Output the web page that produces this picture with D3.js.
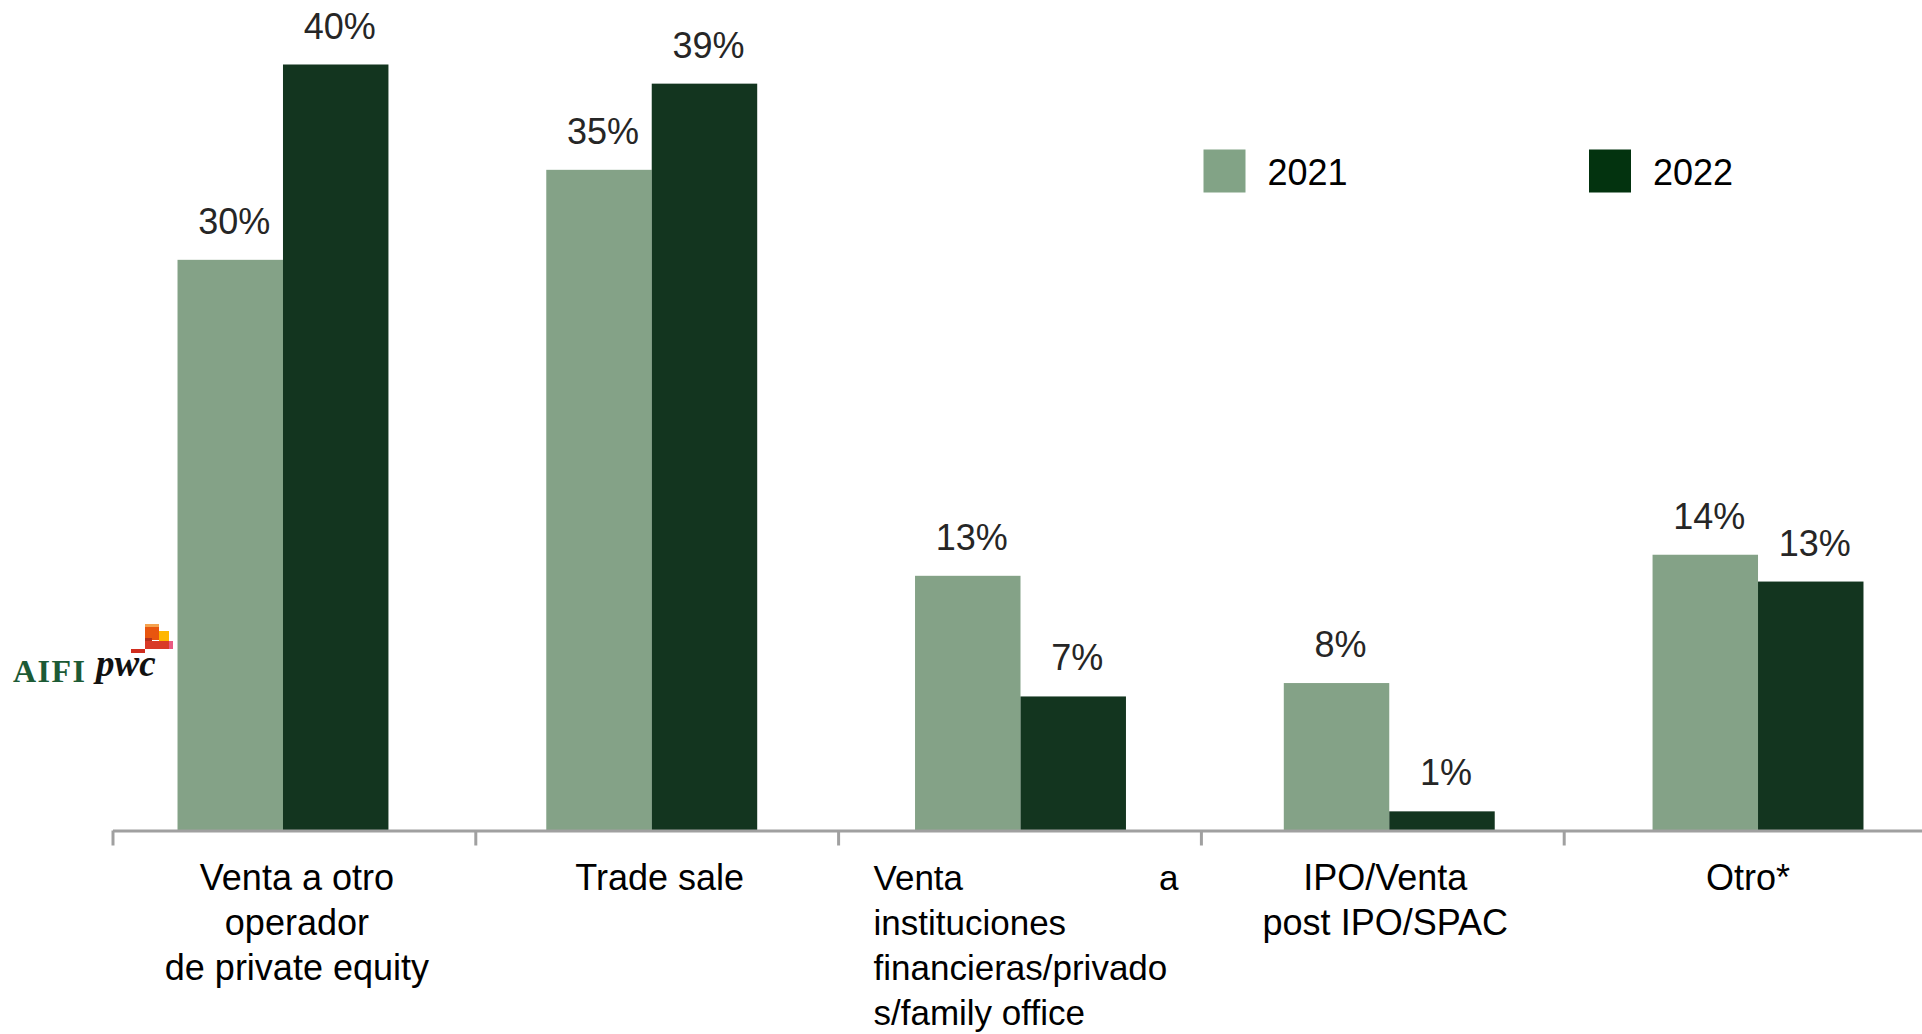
<!DOCTYPE html>
<html>
<head>
<meta charset="utf-8">
<script src="https://cdn.jsdelivr.net/npm/d3@7"></script>
<style>
  html, body { margin: 0; padding: 0; background: #ffffff; }
  svg { display: block; }
  text { font-family: "Liberation Sans", Arial, sans-serif; }
</style>
</head>
<body>
<svg id="chart" width="1922" height="1034"></svg>
<script>
// ---- data ----
const categories = [
  "Venta a otro operador de private equity",
  "Trade sale",
  "Venta a instituciones financieras/privados/family office",
  "IPO/Venta post IPO/SPAC",
  "Otro*"
];
const categoryLines = [
  ["Venta a otro", "operador", "de private equity"],
  ["Trade sale"],
  ["Venta a", "instituciones", "financieras/privado", "s/family office"],
  ["IPO/Venta", "post IPO/SPAC"],
  ["Otro*"]
];
const justifiedCategory = [false, false, true, false, false];
const seriesNames = ["2021", "2022"];
const values2021 = [29.8, 34.5, 13.3, 7.7, 14.4];
const values2022 = [40.0, 39.0, 7.0, 1.0, 13.0];
const labels2021 = ["30%", "35%", "13%", "8%", "14%"];
const labels2022 = ["40%", "39%", "7%", "1%", "13%"];
const seriesColors = ["#84a287", "#13351f"];
const legendColors = ["#82a386", "#03330f"];

// ---- setup ----
const svg = d3.select("#chart");
const baseY = 830.5;

const y = d3.scaleLinear().domain([0, 40]).range([baseY, baseY - 766]);

const x0 = d3.scaleBand()
  .domain(categories)
  .range([98.6, 1942.4])
  .paddingInner(0.428)
  .paddingOuter(0.214);

const x1 = d3.scaleBand()
  .domain(seriesNames)
  .range([0, x0.bandwidth()])
  .padding(0);

// axis scale (category slots with ticks at slot boundaries)
const xt = d3.scaleLinear().domain([0, categories.length]).range([112.5, 112.5 + categories.length * 362.8]);

const seriesData = [
  { name: "2021", values: values2021, labels: labels2021, color: seriesColors[0] },
  { name: "2022", values: values2022, labels: labels2022, color: seriesColors[1] }
];

// ---- bars ----
const groups = svg.append("g").selectAll("g.cat")
  .data(categories)
  .join("g")
  .attr("class", "cat")
  .attr("transform", d => `translate(${x0(d)},0)`);

groups.selectAll("rect")
  .data((c, i) => seriesData.map(s => ({ s: s.name, v: s.values[i], label: s.labels[i], color: s.color })))
  .join("rect")
  .attr("x", d => x1(d.s))
  .attr("y", d => y(d.v))
  .attr("width", x1.bandwidth())
  .attr("height", d => baseY - y(d.v))
  .attr("fill", d => d.color);

groups.selectAll("text.val")
  .data((c, i) => seriesData.map(s => ({ s: s.name, v: s.values[i], label: s.labels[i] })))
  .join("text")
  .attr("class", "val")
  .attr("x", d => x1(d.s) + x1.bandwidth() / 2 + 4)
  .attr("y", d => y(d.v) - 26)
  .attr("text-anchor", "middle")
  .attr("font-size", 36)
  .attr("fill", "#262626")
  .text(d => d.label);

// ---- axis ----
const axis = d3.axisBottom(xt)
  .tickValues(d3.range(categories.length))
  .tickSize(15)
  .tickSizeOuter(0)
  .tickFormat("");

const axisG = svg.append("g")
  .attr("transform", `translate(0,${baseY})`)
  .call(axis);
axisG.select(".domain").attr("stroke", "#a0a0a0").attr("stroke-width", 3);
axisG.selectAll(".tick line").attr("stroke", "#a0a0a0").attr("stroke-width", 3);

// ---- category labels ----
const lineH = 45.3;
const firstBase = 889.5;
const catFont = 36;
const justFont = 35;
categories.forEach((c, i) => {
  const cx = (xt(i) + xt(i + 1)) / 2 + 3;
  const lines = categoryLines[i];
  const g = svg.append("g");
  if (justifiedCategory[i]) {
    const left = cx - 149, right = cx + 156;
    lines.forEach((ln, k) => {
      const yy = firstBase + k * lineH;
      if (k === 0) {
        const parts = ln.split(" ");
        g.append("text").attr("x", left).attr("y", yy).attr("font-size", justFont).attr("fill", "#000").text(parts[0]);
        g.append("text").attr("x", right).attr("y", yy).attr("text-anchor", "end").attr("font-size", justFont).attr("fill", "#000").text(parts[1]);
      } else {
        g.append("text").attr("x", left).attr("y", yy).attr("font-size", justFont).attr("fill", "#000").text(ln);
      }
    });
  } else {
    lines.forEach((ln, k) => {
      g.append("text")
        .attr("x", cx)
        .attr("y", firstBase + k * lineH)
        .attr("text-anchor", "middle")
        .attr("font-size", catFont)
        .attr("fill", "#000")
        .text(ln);
    });
  }
});

// ---- legend ----
const legendX = [1203.5, 1589];
const legend = svg.append("g").selectAll("g.leg")
  .data(seriesNames)
  .join("g")
  .attr("class", "leg")
  .attr("transform", (d, i) => `translate(${legendX[i]},149.5)`);
legend.append("rect")
  .attr("width", 42).attr("height", 43)
  .attr("fill", (d, i) => legendColors[i]);
legend.append("text")
  .attr("x", 64).attr("y", 35.5)
  .attr("font-size", 36)
  .attr("fill", "#000")
  .text(d => d);

// ---- logo (AIFI / pwc) ----
const logo = svg.append("g").attr("class", "logo");
logo.append("rect").attr("x", 145).attr("y", 624).attr("width", 14).attr("height", 7).attr("fill", "#f5a24e");
logo.append("rect").attr("x", 145).attr("y", 627).attr("width", 14).attr("height", 13).attr("fill", "#e8560f");
logo.append("rect").attr("x", 159).attr("y", 631).attr("width", 10).attr("height", 10).attr("fill", "#ffb600");
logo.append("rect").attr("x", 145).attr("y", 638).attr("width", 7).attr("height", 4).attr("fill", "#b5311b");
logo.append("rect").attr("x", 145).attr("y", 641).attr("width", 24).attr("height", 8).attr("fill", "#d93a26");
logo.append("rect").attr("x", 169).attr("y", 641).attr("width", 4).attr("height", 8).attr("fill", "#ea5a82");
logo.append("rect").attr("x", 131).attr("y", 649).attr("width", 14).attr("height", 4).attr("fill", "#d02d1e");
logo.append("text").attr("x", 13).attr("y", 682)
  .style("font-family", "'Liberation Serif', 'Times New Roman', serif")
  .attr("font-weight", "bold").attr("font-size", 32).attr("letter-spacing", 1.5)
  .attr("fill", "#1c5a35").text("AIFI");
logo.append("text").attr("x", 96).attr("y", 676)
  .style("font-family", "'Liberation Serif', 'Times New Roman', serif")
  .attr("font-weight", "bold").attr("font-style", "italic").attr("font-size", 37)
  .attr("fill", "#111").text("pwc");
</script>
</body>
</html>
